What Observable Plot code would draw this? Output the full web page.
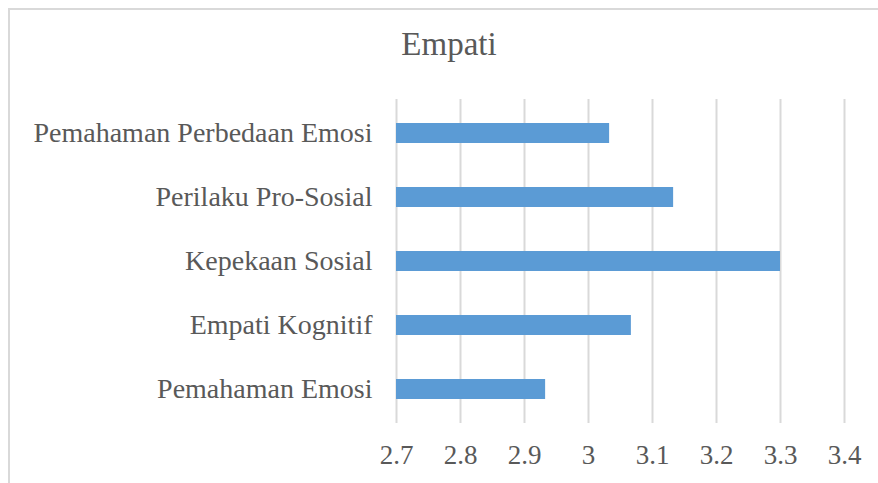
<!DOCTYPE html>
<html>
<head>
<meta charset="utf-8">
<script src="https://cdn.jsdelivr.net/npm/d3@7"></script>
<script src="https://cdn.jsdelivr.net/npm/@observablehq/plot@0.6"></script>
<style>
  html, body { margin: 0; padding: 0; background: #fff; }
  #wrap { position: relative; width: 878px; height: 483px; overflow: hidden; background: #fff; }
  #frame { position: absolute; left: 8px; top: 8px; width: 900px; height: 500px; border: 2px solid #d9d9d9; box-sizing: border-box; }
  #title { position: absolute; left: 8px; width: 882px; top: 28px; text-align: center; font-family: "Liberation Serif", serif; font-size: 33px; color: #595959; line-height: 1; }
  #chart { position: absolute; left: 0; top: 0; }
  #chart svg, #chart svg text { font-family: "Liberation Serif", serif !important; }
</style>
</head>
<body>
<div id="wrap">
  <div id="frame"></div>
  <div id="chart"></div>
  <div id="title">Empati</div>
</div>
<script>
const categories = ["Pemahaman Perbedaan Emosi", "Perilaku Pro-Sosial", "Kepekaan Sosial", "Empati Kognitif", "Pemahaman Emosi"];
const values = [3.033, 3.133, 3.3, 3.067, 2.933];
const xTicks = [2.7, 2.8, 2.9, 3.0, 3.1, 3.2, 3.3, 3.4];

const data = categories.map((c, i) => ({category: c, value: values[i]}));

const chart = Plot.plot({
  width: 878,
  height: 483,
  marginTop: 99,
  marginBottom: 60,
  marginLeft: 396,
  marginRight: 34,
  style: {fontFamily: "'Liberation Serif', serif", color: "#595959", background: "transparent"},
  x: {domain: [2.7, 3.4], ticks: xTicks, label: null},
  y: {domain: categories, paddingInner: 0.69, paddingOuter: 0.345, label: null},
  marks: [
    Plot.ruleX(xTicks, {stroke: "#d9d9d9", strokeWidth: 2}),
    Plot.barX(data, {y: "category", x1: 2.7, x2: "value", fill: "#5b9bd5"}),
    Plot.axisX({ticks: xTicks, tickSize: 0, tickPadding: 21, fontSize: 27, fontFamily: "'Liberation Serif', serif", tickFormat: d => String(+d.toFixed(1)), fill: "#595959"}),
    Plot.axisY({tickSize: 0, tickPadding: 24, fontSize: 28, fontFamily: "'Liberation Serif', serif", fill: "#595959"})
  ]
});
document.getElementById("chart").appendChild(chart);
</script>
</body>
</html>
